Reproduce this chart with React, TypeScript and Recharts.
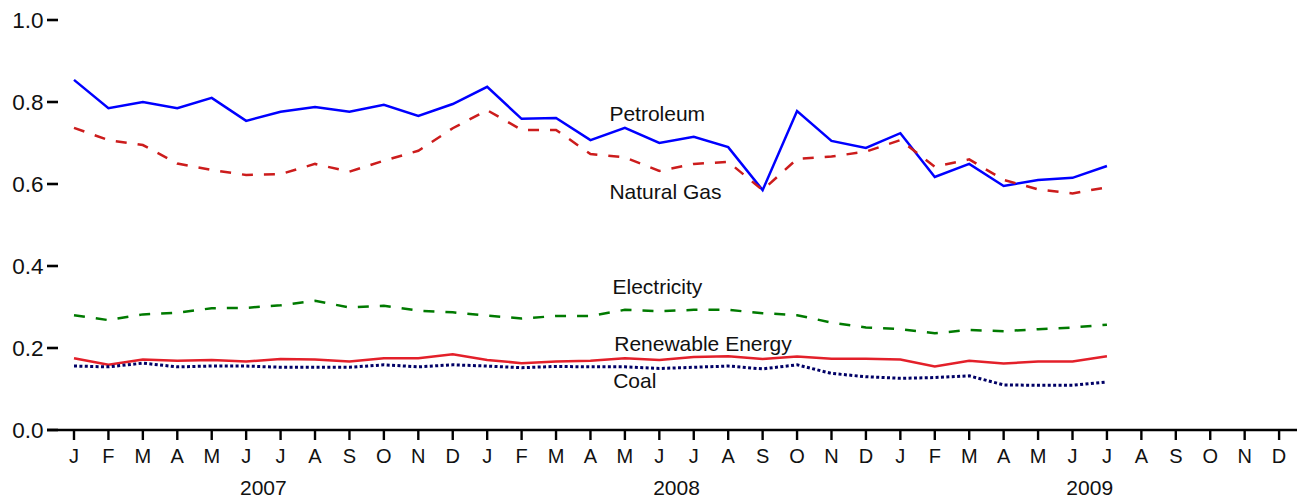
import React from "react";
import { LineChart, Line, XAxis, YAxis, ReferenceDot } from "recharts";

const monthLetters = ["J","F","M","A","M","J","J","A","S","O","N","D","J","F","M","A","M","J","J","A","S","O","N","D","J","F","M","A","M","J","J","A","S","O","N","D"];
const monthTicks = monthLetters.map((_, i) => i);
const yearLabels = ["2007", "2008", "2009"];
const yearTicks = [5.5, 17.5, 29.5];
const yTicks = [0, 0.2, 0.4, 0.6, 0.8, 1.0];

const petroleum = [0.854,0.785,0.800,0.785,0.810,0.754,0.776,0.788,0.776,0.793,0.766,0.795,0.837,0.759,0.761,0.707,0.737,0.700,0.715,0.690,0.585,0.778,0.705,0.688,0.724,0.617,0.649,0.595,0.610,0.615,0.644];
const naturalGas = [0.737,0.707,0.695,0.650,0.634,0.622,0.624,0.649,0.630,0.657,0.681,0.736,0.780,0.732,0.732,0.673,0.665,0.632,0.649,0.654,0.585,0.661,0.667,0.679,0.707,0.642,0.660,0.610,0.587,0.577,0.592];
const electricity = [0.280,0.268,0.282,0.286,0.297,0.298,0.304,0.315,0.299,0.303,0.291,0.287,0.279,0.272,0.278,0.278,0.293,0.290,0.293,0.293,0.285,0.280,0.262,0.250,0.246,0.236,0.244,0.241,0.246,0.250,0.257];
const renewable = [0.175,0.159,0.172,0.169,0.171,0.167,0.173,0.172,0.167,0.175,0.175,0.185,0.171,0.163,0.167,0.169,0.175,0.171,0.178,0.180,0.173,0.179,0.174,0.174,0.172,0.155,0.169,0.162,0.167,0.167,0.180];
const coal = [0.156,0.154,0.163,0.154,0.156,0.156,0.153,0.153,0.153,0.159,0.154,0.159,0.156,0.152,0.155,0.154,0.154,0.150,0.153,0.156,0.149,0.159,0.138,0.130,0.126,0.128,0.132,0.110,0.109,0.109,0.117];

const seriesLabels = ["Petroleum", "Natural Gas", "Electricity", "Renewable Energy", "Coal"];
const labelX = [15.55, 15.55, 15.64, 15.69, 15.66];
const labelY = [0.771, 0.581, 0.3495, 0.2098, 0.1207];

const data = petroleum.map((p, i) => ({
  i,
  petroleum: p,
  naturalGas: naturalGas[i],
  electricity: electricity[i],
  renewable: renewable[i],
  coal: coal[i],
}));

const FONT = "'Liberation Sans', Arial, Helvetica, sans-serif";
const TEXT = "#111";

const YTick = (props: any) => {
  const { x, y, payload } = props;
  return (
    <g>
      <text x={x - 3.5} y={y} dy="0.355em" textAnchor="end" fontSize={22.5} fontFamily={FONT} fill={TEXT}>
        {Number(payload.value).toFixed(1)}
      </text>
      <line x1={x} x2={x + 11} y1={y} y2={y} stroke="#000" strokeWidth={2.6} />
    </g>
  );
};

export default function App() {
  return (
    <div style={{ position: "absolute", left: 0, top: 0, background: "#fff" }}>
      <LineChart
        width={1301}
        height={502}
        data={data}
        margin={{ top: 20, right: 4, left: 0, bottom: 0 }}
      >
        <XAxis
          dataKey="i"
          type="number"
          domain={[-0.784, 35.52]}
          allowDataOverflow
          ticks={monthTicks}
          interval={0}
          tickFormatter={(v: number) => monthLetters[v]}
          height={40}
          tickSize={10}
          tickMargin={9}
          axisLine={{ stroke: "#000", strokeWidth: 2.4 }}
          tickLine={{ stroke: "#000", strokeWidth: 2.4 }}
          tick={{ fontSize: 20, fontFamily: FONT, fill: TEXT }}
        />
        <XAxis
          xAxisId="yr"
          dataKey="i"
          type="number"
          domain={[-0.784, 35.52]}
          allowDataOverflow
          ticks={yearTicks}
          interval={0}
          tickFormatter={(v: number) => yearLabels[yearTicks.indexOf(v)]}
          height={32}
          tickSize={0}
          tickMargin={10}
          axisLine={false}
          tickLine={false}
          tick={{ fontSize: 21, fontFamily: FONT, fill: TEXT }}
        />
        <YAxis
          domain={[0, 1]}
          ticks={yTicks}
          interval={0}
          width={47}
          tickSize={0}
          tickMargin={0}
          axisLine={false}
          tickLine={false}
          tick={<YTick />}
        />
        <Line type="linear" dataKey="petroleum" stroke="#0000ff" strokeWidth={2.5} dot={false} isAnimationActive={false} />
        <Line type="linear" dataKey="naturalGas" stroke="#cc1c1c" strokeWidth={2.5} strokeDasharray="11 11" dot={false} isAnimationActive={false} />
        <Line type="linear" dataKey="electricity" stroke="#007a00" strokeWidth={2.5} strokeDasharray="11 11" dot={false} isAnimationActive={false} />
        <Line type="linear" dataKey="renewable" stroke="#e3202a" strokeWidth={2.5} dot={false} isAnimationActive={false} />
        <Line type="linear" dataKey="coal" stroke="#000066" strokeWidth={3} strokeDasharray="3 2.4" dot={false} isAnimationActive={false} />
        {seriesLabels.map((t, k) => (
          <ReferenceDot
            key={t}
            x={labelX[k]}
            y={labelY[k]}
            r={0}
            fill="none"
            stroke="none"
            ifOverflow="visible"
            label={{ value: t, position: "right", offset: 0, fontSize: 21, fontFamily: FONT, fill: TEXT }}
          />
        ))}
      </LineChart>
    </div>
  );
}
